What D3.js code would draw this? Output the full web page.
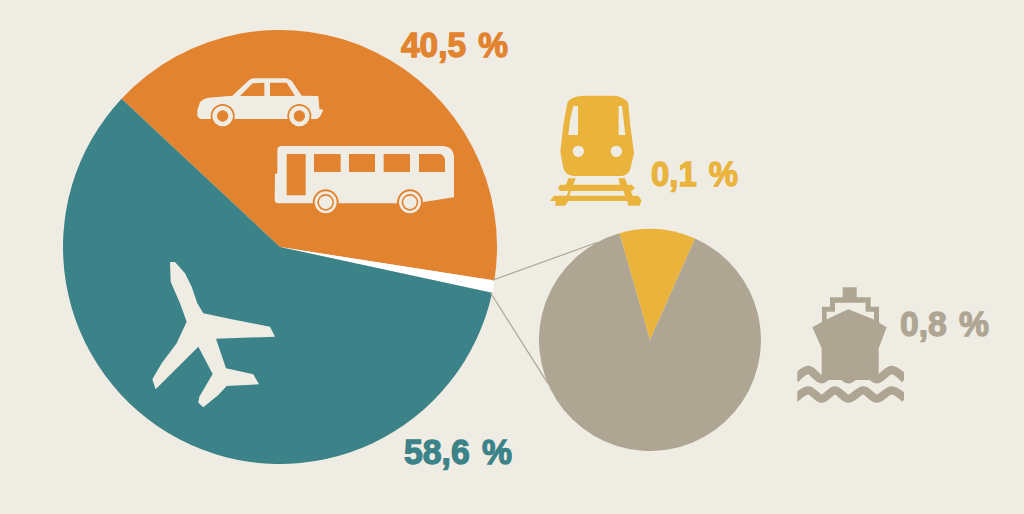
<!DOCTYPE html>
<html><head><meta charset="utf-8">
<script src="https://cdn.jsdelivr.net/npm/d3@7/dist/d3.min.js"></script>
<style>html,body{margin:0;padding:0;background:#efece4;overflow:hidden}svg{display:block}
text{font-family:"Liberation Sans",Arial,sans-serif;font-weight:700;font-size:35px;stroke-width:1.3px;word-spacing:3px}</style>
</head><body><svg id="c" width="1024" height="514"></svg>
<script>
const modes = ["Auto + bus", "Other", "Air"];
const modeValues = [40.5, 0.9, 58.6];
const modeColors = ["#e2832f", "#ffffff", "#3b8388"];
const otherModes = ["Rail", "Sea"];
const otherValues = [0.1, 0.8];
const otherColors = ["#e9b33c", "#aea693"];
const labels = ["40,5 %", "58,6 %", "0,1 %", "0,8 %"];
const labelColors = ["#e2832f", "#3b8388", "#e9b33c", "#aea693"];

const W = 1024, H = 514, bg = "#efece4", cream = "#efece4";
const svg = d3.select("#c");
svg.append("rect").attr("width", W).attr("height", H).attr("fill", bg);
const rad = d => d * Math.PI / 180;

// main pie
const mainC = [280, 247], mainR = 217;
const mainArcs = d3.pie().sort(null).startAngle(rad(-46.9)).endAngle(rad(313.1))(modeValues);
const arcMain = d3.arc().innerRadius(0).outerRadius(mainR);
const gMain = svg.append("g").attr("transform", `translate(${mainC})`);
gMain.selectAll("path").data(mainArcs).join("path").attr("d", arcMain).attr("fill", (d, i) => modeColors[i]);

// detail pie
const subC = [650, 340], subR = 111;
const subArcs = d3.pie().sort(null).startAngle(rad(-16)).endAngle(rad(344))(otherValues);
const arcSub = d3.arc().innerRadius(0).outerRadius(subR);
const gSub = svg.append("g").attr("transform", `translate(${subC})`);
gSub.selectAll("path").data(subArcs).join("path").attr("d", arcSub).attr("fill", (d, i) => otherColors[i]);

// connectors from the "other" slice to the detail pie
const polar = (c, r, a) => [c[0] + r * Math.sin(a), c[1] - r * Math.cos(a)];
const link = d3.line();
const other = mainArcs[1];
[[other.startAngle, rad(-28.6)], [other.endAngle, rad(-113)]].forEach(([a, b]) => {
  svg.append("path").attr("d", link([polar(mainC, mainR - 2, a), polar(subC, subR, b)]))
    .attr("fill", "none").attr("stroke", "#aea693").attr("stroke-width", 1.2);
});

// labels
const labelPos = [[401, 57], [404, 464], [651, 186], [900, 336]];
svg.selectAll("text").data(labels).join("text")
  .attr("x", (d, i) => labelPos[i][0]).attr("y", (d, i) => labelPos[i][1])
  .attr("fill", (d, i) => labelColors[i]).attr("stroke", (d, i) => labelColors[i])
  .attr("textLength", (d, i) => [107, 108, 87, 89][i]).attr("lengthAdjust", "spacingAndGlyphs")
  .text(d => d);

// icons (glyph outlines, drawn at 1/3 scale)
const icon = (x, y) => svg.append("g").attr("transform", `translate(${x},${y}) scale(${1 / 3})`);
const orange = modeColors[0], yellow = otherColors[0], taupe = otherColors[1];

// car
const car = icon(180, 60);
car.append("path").attr("fill", cream).attr("fill-rule", "evenodd").attr("d",
  "M52,150 L60,127 Q68,116 85,113 L157,107 L205,62 Q212,55 225,55 L320,55 L335,62 L365,107 L415,108 L418,146 L430,150 L420,170 L410,177 L60,177 L52,168 Z" +
  "M180,108 L218,70 L253,68 L253,108 Z M270,68 L320,68 L345,108 L270,108 Z");
[128, 358].forEach(x => {
  car.append("circle").attr("cx", x).attr("cy", 168).attr("r", 36).attr("fill", orange);
  car.append("circle").attr("cx", x).attr("cy", 168).attr("r", 31).attr("fill", cream);
  car.append("circle").attr("cx", x).attr("cy", 168).attr("r", 17).attr("fill", orange);
});

// bus
const bus = icon(180, 60);
bus.append("path").attr("fill", cream).attr("fill-rule", "evenodd").attr("d",
  "M292,270 Q293,258 305,258 L790,258 Q820,260 822,290 L822,412 L735,425 L720,430 L295,430 Q285,430 284,420 L285,342 L292,340 Z" +
  "M320,282 H377 V406 H320 Z M402,282 H482 V336 H402 Z M507,282 H585 V336 H507 Z M611,282 H690 V336 H611 Z" +
  "M717,282 H782 Q795,288 795,302 V336 H717 Z");
[437, 690].forEach(x => {
  bus.append("circle").attr("cx", x).attr("cy", 427).attr("r", 39).attr("fill", orange);
  bus.append("circle").attr("cx", x).attr("cy", 427).attr("r", 33).attr("fill", cream);
  bus.append("circle").attr("cx", x).attr("cy", 427).attr("r", 25).attr("fill", orange);
  bus.append("circle").attr("cx", x).attr("cy", 427).attr("r", 20).attr("fill", cream);
});

// plane
icon(140, 250).append("path").attr("fill", cream).attr("d",
  "M90,36 L105,36 L135,70 L155,110 L172,160 L190,190 L275,208 L390,230 L405,260 L228,266 L258,355 L340,373 L357,403 L260,408 L235,435 L190,472 L175,458 L178,440 L218,372 L175,290 L120,345 L47,418 L37,388 L65,340 L110,280 L140,215 L120,160 L92,95 Z");

// train
const train = icon(540, 90);
train.append("path").attr("fill", yellow).attr("fill-rule", "evenodd").attr("d",
  "M82,38 Q90,20 130,17 L225,17 Q255,22 265,40 L270,100 L282,190 L270,240 Q262,258 240,258 L100,258 Q75,255 70,235 L61,185 L70,105 Z" +
  "M100,48 L114,48 L114,135 L85,135 L90,90 Z M236,48 L246,48 L256,135 L236,135 Z");
[115, 229].forEach(x => train.append("circle").attr("cx", x).attr("cy", 184).attr("r", 17).attr("fill", cream));
train.append("path").attr("fill", yellow).attr("d",
  "M85,265 L107,265 L100,284 L240,284 L235,265 L255,265 L262,284 L275,284 L285,295 L275,303 L272,303 L278,317 L295,317 L305,333 L298,347 L265,347 L262,333 L85,333 L75,347 L45,347 L48,333 L30,333 L42,317 L80,317 L86,303 L60,303 L54,292 L62,284 L78,284 Z" +
  "M93,303 L88,317 L255,317 L251,303 Z");

// ship
const ship = icon(780, 280);
ship.append("path").attr("fill", taupe).attr("d",
  "M188,22 H230 V52 H272 V80 H297 V130 H126 V80 H150 V52 H188 Z");
ship.append("path").attr("fill", cream).attr("d",
  "M165,68 H257 V95 H282 V125 H140 V95 H165 Z");
ship.append("path").attr("fill", taupe).attr("d",
  "M97,142 L140,118 L205,88 L280,118 L320,142 L296,205 L296,300 L125,300 L125,205 Z");
const clip = svg.append("clipPath").attr("id", "wv");
clip.append("rect").attr("x", 52).attr("y", 240).attr("width", 320).attr("height", 140);
const crestsX = [45, 85, 125, 165, 205, 250, 290, 335, 375];
[[270, 298], [331, 356]].forEach(([top, bot]) => {
  const pts = crestsX.map((x, i) => [x, i % 2 ? top : bot]);
  ship.append("path").attr("clip-path", "url(#wv)").attr("fill", "none").attr("stroke", taupe).attr("stroke-width", 25)
    .attr("d", d3.line().curve(d3.curveCatmullRom)(pts));
});
</script></body></html>
